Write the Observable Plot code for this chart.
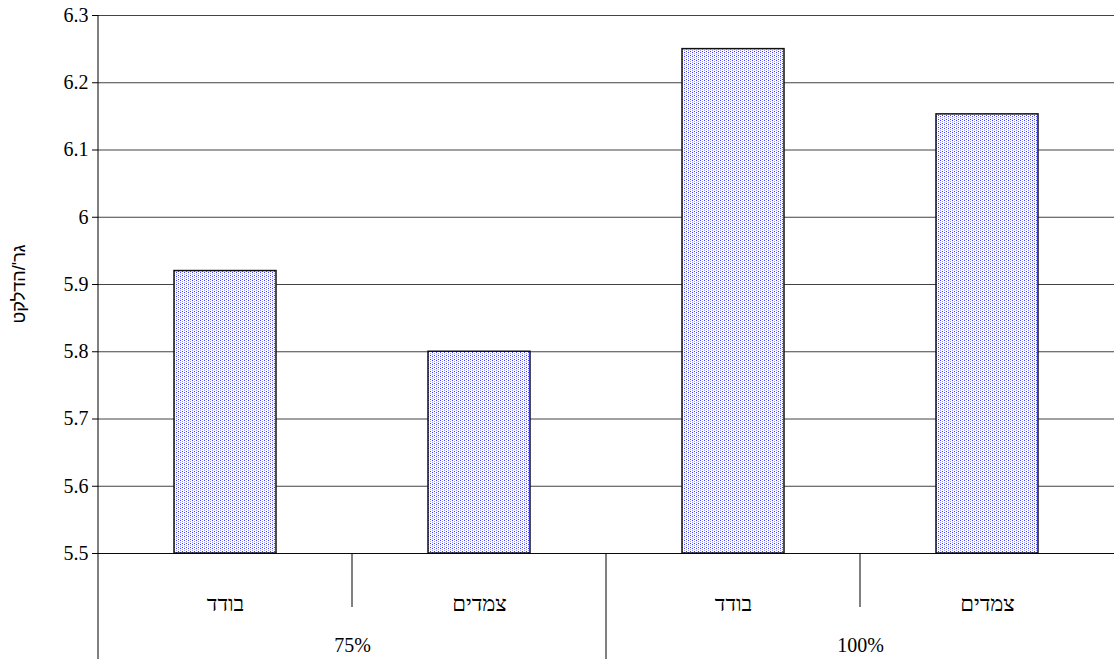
<!DOCTYPE html>
<html><head><meta charset="utf-8">
<script src="https://cdn.jsdelivr.net/npm/d3@7"></script>
<script src="https://cdn.jsdelivr.net/npm/@observablehq/plot@0.6"></script>
<style>body{margin:0;background:#fff} svg{display:block}</style>
</head><body><div id="chart"></div>
<script>
const groups = ["75%", "100%"];
const subs = ["בודד", "צמדים"];
const values75 = [5.92, 5.80];
const values100 = [6.25, 6.153];
const yTicks = [5.5, 5.6, 5.7, 5.8, 5.9, 6.0, 6.1, 6.2, 6.3];
const yLabel = "גר'/הדלקט";
const yMin = 5.5, yMax = 6.3;

const data = [
  ...subs.map((s, i) => ({group: groups[0], sub: s, value: values75[i]})),
  ...subs.map((s, i) => ({group: groups[1], sub: s, value: values100[i]}))
];
const font = "'Liberation Serif','Times New Roman',serif";
const H = 659;
const plot = Plot.plot({
  width: 1114, height: H, marginLeft: 98, marginRight: 0, marginTop: 15, marginBottom: 106,
  style: {fontFamily: font, fontSize: "20px", color: "#000", background: "#fff", overflow: "visible"},
  fx: {domain: groups, padding: 0},
  x: {domain: subs, paddingInner: 0.6, paddingOuter: 0.3},
  y: {domain: [yMin, yMax]},
  marks: [
    Plot.gridY(yTicks, {stroke: "#222", strokeOpacity: 0.85, strokeWidth: 1}),
    Plot.barY(data, {fx: "group", x: "sub", y1: () => yMin, y2: "value", fill: "url(#dots)", stroke: "#111", strokeWidth: 1.5}),
    Plot.axisY(yTicks, {tickSize: 6, tickPadding: 4, tickFormat: d => String(+d.toFixed(1)), label: null, fontSize: 20, fontFamily: font}),
    Plot.axisX({tickSize: 0, tickPadding: 42, label: null, fontSize: 22, fontFamily: font}),
    Plot.axisFx({anchor: "bottom", tickSize: 0, tickPadding: 84, label: null, fontSize: 20, fontFamily: font}),
    Plot.ruleY([yMin], {stroke: "#000", strokeOpacity: 0.85})
  ]
});

const svg = d3.select(plot);
const defs = svg.insert("defs", ":first-child");
const pat = defs.append("pattern").attr("id", "dots").attr("width", 4).attr("height", 4).attr("patternUnits", "userSpaceOnUse");
pat.append("rect").attr("width", 4).attr("height", 4).attr("fill", "#fff");
[[0, 0, "#3a3aff"], [2, 1, "#9a9aff"], [0, 2, "#9a9aff"], [2, 3, "#3a3aff"]].forEach(([x, y, c]) =>
  pat.append("rect").attr("x", x).attr("y", y).attr("width", 1).attr("height", 1).attr("fill", c));

const fxS = plot.scale("fx"), xS = plot.scale("x"), yS = plot.scale("y");
const yBase = yS.apply(yMin);
const yTop = yS.apply(yMax);
const lines = svg.append("g").attr("stroke", "#000").attr("stroke-width", 1);
const gap = (xS.step - xS.bandwidth) / 2;
groups.forEach((g, gi) => {
  const left = fxS.apply(g);
  lines.append("line").attr("x1", left).attr("x2", left).attr("y1", gi === 0 ? yTop : yBase).attr("y2", H);
  subs.forEach((s, si) => {
    if (si === 0) return;
    const bx = left + (xS.apply(s) - xS.range[0]) - gap;
    lines.append("line").attr("x1", bx).attr("x2", bx).attr("y1", yBase).attr("y2", yBase + 54);
  });
});
svg.append("text")
  .attr("transform", `translate(20,${(yTop + yBase) / 2}) rotate(-90)`)
  .attr("text-anchor", "middle").attr("dominant-baseline", "middle")
  .attr("font-family", "'Liberation Sans', Arial, sans-serif").attr("font-size", 18).attr("fill", "#000")
  .text(yLabel);

document.getElementById("chart").appendChild(plot);
</script>
</body></html>
